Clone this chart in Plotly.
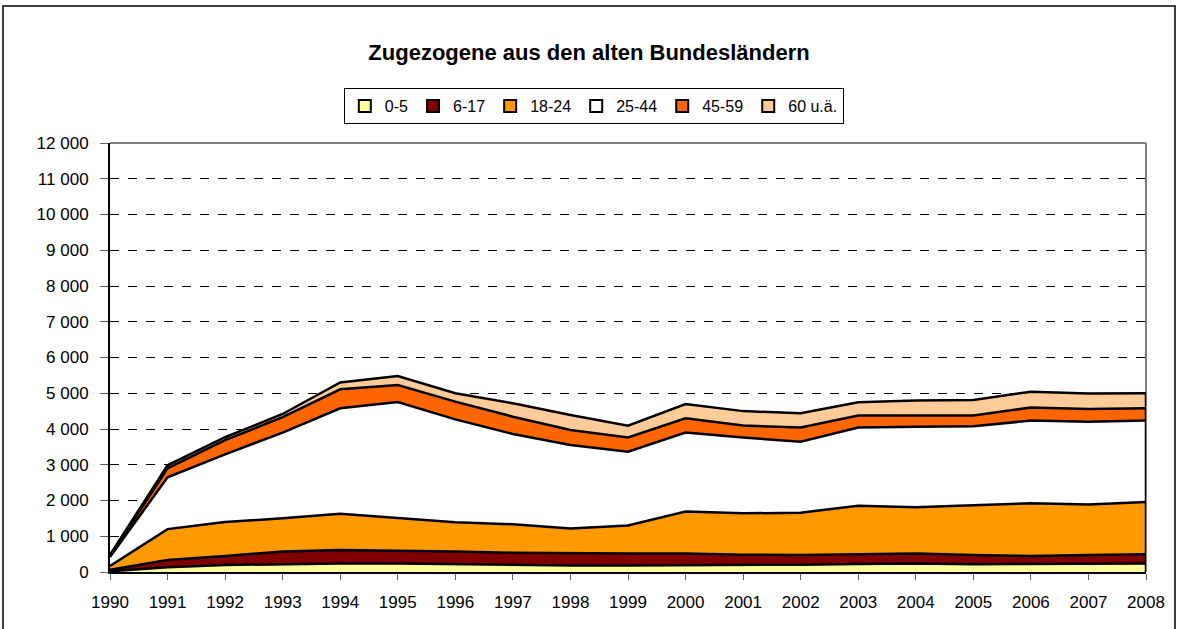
import plotly.graph_objects as go

# Zugezogene aus den alten Bundesländern nach Altersgruppen, 1990-2008
years = list(range(1990, 2009))

age_0_5 = [20, 130, 195, 225, 240, 235, 215, 195, 180, 180, 190, 180, 205, 225, 240, 215, 225, 225, 240]
age_6_17 = [40, 205, 255, 345, 375, 365, 355, 345, 340, 340, 330, 305, 270, 270, 280, 260, 225, 250, 255]
age_18_24 = [110, 865, 950, 930, 1015, 910, 820, 795, 700, 780, 1170, 1155, 1185, 1360, 1290, 1390, 1470, 1415, 1465]
age_25_44 = [250, 1450, 1890, 2400, 2950, 3245, 2880, 2525, 2330, 2065, 2210, 2120, 1985, 2185, 2255, 2210, 2315, 2315, 2275]
age_45_59 = [30, 250, 400, 430, 530, 475, 495, 485, 420, 400, 400, 335, 395, 335, 310, 300, 365, 355, 345]
age_60 = [30, 85, 80, 90, 190, 250, 235, 375, 420, 325, 400, 405, 400, 370, 420, 435, 445, 430, 420]

series_names = ["0-5", "6-17", "18-24", "25-44", "45-59", "60 u.ä."]
series_values = [age_0_5, age_6_17, age_18_24, age_25_44, age_45_59, age_60]
series_colors = ["#FFFF99", "#800000", "#FF9900", "#FFFFFF", "#FF6600", "#FFCC99"]

FONT = "Liberation Sans, Arial, sans-serif"

fig = go.Figure()

for name, vals, col in zip(series_names, series_values, series_colors):
    fig.add_trace(go.Scatter(
        x=years, y=vals, name=name, stackgroup="alter", mode="lines",
        line=dict(color="black", width=2.5), fillcolor=col,
        showlegend=False, hoverinfo="x+y+name",
    ))

# closing edge of the stacked areas at the last year
total_last = sum(v[-1] for v in series_values)
fig.add_trace(go.Scatter(
    x=[years[-1], years[-1]], y=[0, total_last], mode="lines",
    line=dict(color="black", width=2.5), showlegend=False, hoverinfo="skip",
))

# legend entries with square swatches
for name, col in zip(series_names, series_colors):
    fig.add_trace(go.Scatter(
        x=[None], y=[None], name=name, mode="markers",
        marker=dict(symbol="square", size=12, color=col, line=dict(color="black", width=2)),
        showlegend=True,
    ))

W, H = 1178, 629
L, R, T, B = 110, 32, 143, 57

fig.update_layout(
    width=W, height=H,
    margin=dict(l=L, r=R, t=T, b=B),
    paper_bgcolor="white", plot_bgcolor="white",
    separators=", ",
    font=dict(family=FONT, size=17, color="black"),
    title=dict(
        text="<b>Zugezogene aus den alten Bundesländern</b>",
        x=0.5, xanchor="center", y=1 - 52 / H, yanchor="middle",
        font=dict(family=FONT, size=22, color="black"),
    ),
    legend=dict(
        orientation="h", x=0.467, xanchor="center", y=(572 - 88) / 429, yanchor="top",
        bordercolor="black", borderwidth=1, bgcolor="white",
        font=dict(family=FONT, size=16), itemwidth=30,
        traceorder="normal", tracegroupgap=0,
    ),
    showlegend=True,
    xaxis=dict(
        range=[1990, 2008], tickmode="linear", tick0=1990, dtick=1,
        showgrid=False, zeroline=False,
        showline=True, linecolor="black", linewidth=2,
        ticks="outside", ticklen=6, tickcolor="#606060", tickwidth=1,
        ticklabelstandoff=8,
        tickfont=dict(family=FONT, size=17),
    ),
    yaxis=dict(
        range=[0, 12000], tickmode="linear", tick0=0, dtick=1000,
        separatethousands=True, tickformat=",d",
        showgrid=True, gridcolor="black", griddash="dash", gridwidth=1,
        zeroline=False,
        showline=True, linecolor="black", linewidth=2,
        ticks="outside", ticklen=8, tickcolor="#606060", tickwidth=1,
        ticklabelstandoff=8,
        tickfont=dict(family=FONT, size=17),
    ),
    shapes=[
        # grey plot-area frame on top and right
        dict(type="line", xref="paper", yref="paper", x0=0, x1=1, y0=1, y1=1,
             line=dict(color="#808080", width=2), layer="below"),
        dict(type="line", xref="paper", yref="paper", x0=1, x1=1, y0=0, y1=1,
             line=dict(color="#808080", width=2), layer="below"),
        # outer chart frame
        dict(type="rect", xref="paper", yref="paper",
             x0=(3 - L) / 1036, x1=(1175 - L) / 1036,
             y0=(572 - 660) / 429, y1=(572 - 6) / 429,
             line=dict(color="black", width=1.5), fillcolor="rgba(0,0,0,0)", layer="below"),
    ],
)

fig.write_html("out.html")
